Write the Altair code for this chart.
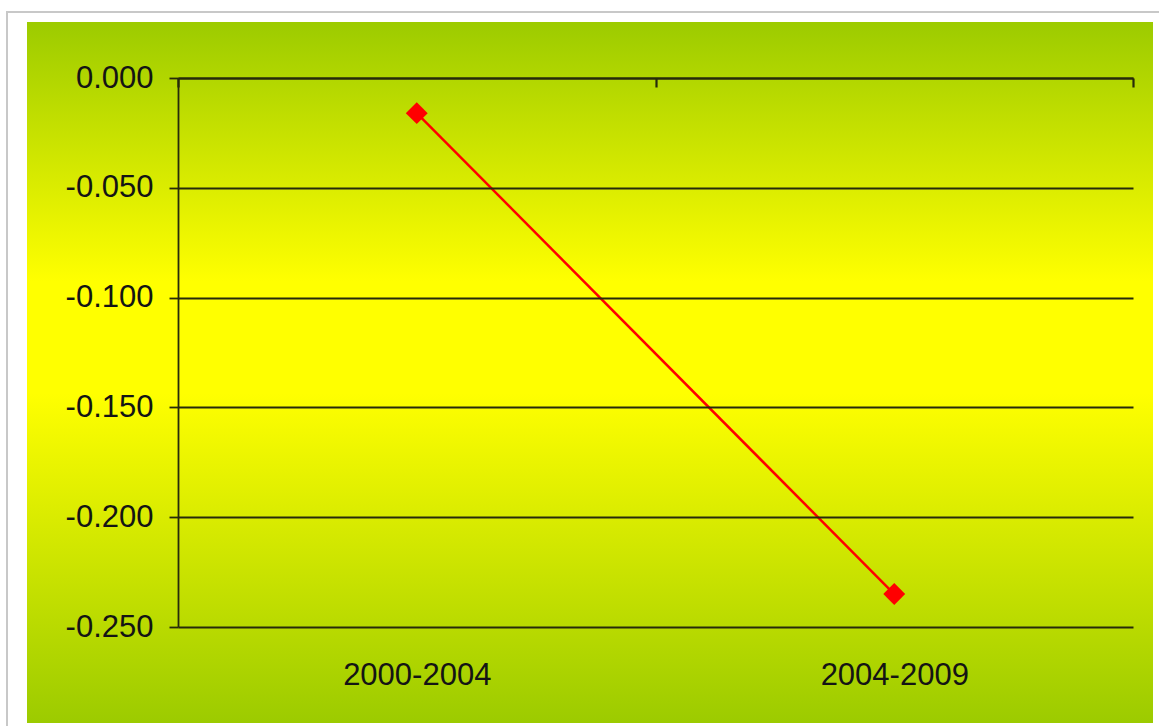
import altair as alt
import pandas as pd

periods = ["2000-2004", "2004-2009"]
values = [-0.016, -0.235]
y_ticks = [0.0, -0.05, -0.10, -0.15, -0.20, -0.25]

df = pd.DataFrame({
    "period": periods,
    "value": values,
    "pos": [i + 0.5 for i in range(len(periods))],
})

W, H = 955, 549
AXIS_COLOR = "#262a0a"
TEXT_COLOR = "#141414"
FONT = "Liberation Sans"
FS = 31

label_expr = " : ".join(
    [f"datum.value < {i + 1} ? '{p}'" for i, p in enumerate(periods[:-1])] + [f"'{periods[-1]}'"]
)

one = alt.Data(values=[{}])

frame = alt.Chart(one).mark_rect(fill="white", stroke="#c8c8c8", strokeWidth=2).encode(
    x=alt.value(-171), x2=alt.value(1200), y=alt.value(-66), y2=alt.value(700)
)

grad = alt.Gradient(
    gradient="linear",
    stops=[
        alt.GradientStop(color="#9ccb00", offset=0),
        alt.GradientStop(color="#ffff00", offset=0.37),
        alt.GradientStop(color="#ffff00", offset=0.53),
        alt.GradientStop(color="#9ccb00", offset=1),
    ],
    x1=0, x2=0, y1=0, y2=1,
)

backdrop = alt.Chart(one).mark_rect(fill=grad).encode(
    x=alt.value(-151), x2=alt.value(975), y=alt.value(-56), y2=alt.value(645)
)

x_scale = alt.Scale(domain=[0, len(periods)], nice=False, zero=False)
y_scale = alt.Scale(domain=[-0.25, 0], nice=False)

y_axis = alt.Axis(
    values=y_ticks,
    labelExpr="replace(format(datum.value, '.3f'), '\u2212', '-')",
    grid=True, gridColor=AXIS_COLOR, gridWidth=1.8, gridOpacity=1,
    domain=True, domainColor=AXIS_COLOR, domainWidth=1.8,
    ticks=True, tickColor=AXIS_COLOR, tickSize=9, tickWidth=1.8,
    labelPadding=16, labelFont=FONT, labelFontSize=FS, labelColor=TEXT_COLOR,
    title=None, zindex=1,
)

line = alt.Chart(df).mark_line(color="#ff0000", strokeWidth=2.5).encode(
    x=alt.X("pos:Q", scale=x_scale, axis=alt.Axis(
        values=[p + 0.5 for p in range(len(periods))],
        labelExpr=label_expr,
        domain=False, ticks=False, grid=False,
        labelPadding=33, labelFont=FONT, labelFontSize=FS, labelColor=TEXT_COLOR,
        title=None, zindex=1,
    )),
    y=alt.Y("value:Q", scale=y_scale, axis=y_axis),
)

points = alt.Chart(df).mark_point(
    shape="diamond", filled=True, size=480, color="#ff0000", opacity=1
).encode(
    x=alt.X("pos:Q", scale=x_scale, axis=alt.Axis(
        values=list(range(len(periods) + 1)),
        orient="bottom", offset=-H,
        labels=False, grid=False,
        domain=True, domainColor=AXIS_COLOR, domainWidth=2.2,
        ticks=True, tickColor=AXIS_COLOR, tickSize=9, tickWidth=2.2,
        title=None, zindex=1,
    )),
    y=alt.Y("value:Q", scale=y_scale, axis=y_axis),
)

chart = alt.layer(frame, backdrop, line, points).resolve_axis(x="independent").properties(
    width=W, height=H,
    padding={"left": 178, "top": 78, "right": 26, "bottom": 99},
    autosize=alt.AutoSizeParams(type="none"),
    background="white",
).configure_view(stroke=None)

chart.save("out.html", embed_options={"renderer": "svg", "actions": False})
